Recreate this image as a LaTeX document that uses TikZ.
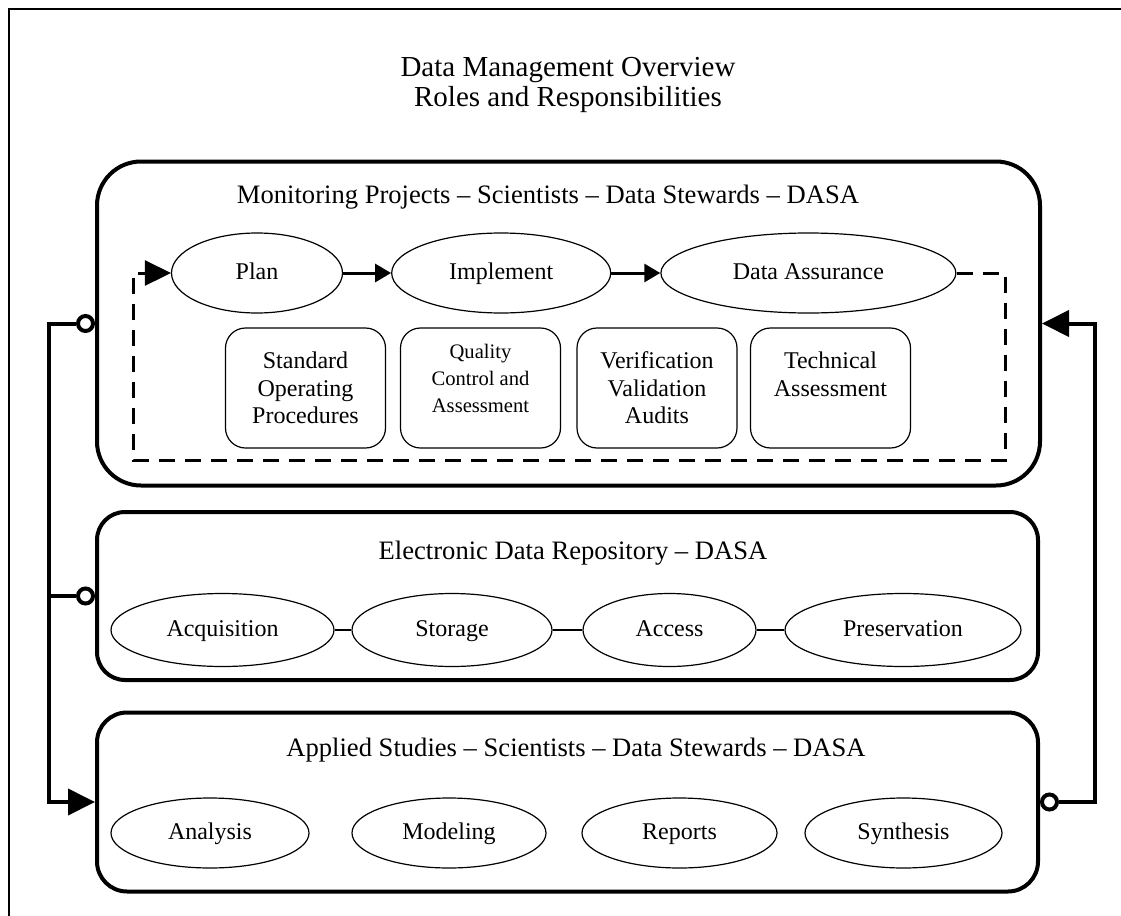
\documentclass[tikz,border=0pt]{standalone}
\usepackage{fontspec}
\setmainfont{Liberation Serif}
\usetikzlibrary{shapes.geometric,arrows.meta,positioning}

\begin{document}
\begin{tikzpicture}[x=0.5pt,y=-0.5pt,font=\fontsize{12}{13.7}\selectfont, link/.style={line width=2pt}]
    \tikzstyle{panel}=[rectangle,draw,line width=2pt,minimum width=470.5pt]
    \tikzstyle{heading}=[inner sep=0pt,font=\fontsize{13.3}{16}\selectfont]
    \tikzstyle{oval}=[ellipse,draw,line width=0.6pt,inner sep=0pt,text height=8.5pt,text depth=2.5pt]
    \tikzstyle{phase}=[oval,minimum height=40pt]
    \tikzstyle{store}=[oval,minimum height=36.5pt]
    \tikzstyle{study}=[oval,minimum height=35pt]
    \tikzstyle{task}=[rectangle,rounded corners=10pt,draw,line width=0.6pt,minimum width=80pt,minimum height=60pt,align=center]
    \tikzstyle{opencirc}=[circle,draw,line width=2pt,fill=white,minimum size=7.5pt,inner sep=0pt]
    \tikzstyle{flow}=[line width=1.5pt,-{Triangle[length=8pt,width=9pt]}]
    \tikzstyle{cycleline}=[line width=1.5pt,dash pattern=on 8pt off 5pt,-{Triangle[length=13pt,width=12.5pt]}]
    \tikzstyle{bigtip}=[-{Triangle[length=13.5pt,width=13pt]}]

    \useasboundingbox (0,0) rectangle (1121,916);
    \draw[line width=1pt] (9,916) -- (9,9) -- (1121,9);

    \node(title)[align=center,font=\fontsize{14.5}{15}\selectfont] at (568,85){Data Management Overview\\Roles and Responsibilities};

    % three panels
    \node(monitor)[panel,rounded corners=22pt,minimum width=471.5pt,minimum height=162pt] at (568.5,323.5){};
    \node(repo)[panel,rounded corners=14pt,minimum height=84pt] at (567.5,596){};
    \node(applied)[panel,rounded corners=15pt,minimum height=89.5pt] at (567.5,802){};

    \node(monhead)[heading] at (548,197){Monitoring Projects – Scientists – Data Stewards – DASA};
    \node(repohead)[heading] at (573,553){Electronic Data Repository – DASA};
    \node(apphead)[heading] at (576,750){Applied Studies – Scientists – Data Stewards – DASA};

    \node(plan)[phase,minimum width=85.5pt] at (257,273){Plan};
    \node(impl)[phase,minimum width=109.5pt,right=24pt of plan]{Implement};
    \node(assure)[phase,minimum width=147.5pt,right=24.5pt of impl]{Data Assurance};
    \draw[flow] (plan) -- (impl);
    \draw[flow] (impl) -- (assure);

    \node(sop)[task] at (305.5,388){Standard\\Operating\\Procedures};
    \node(qc)[task,font=\fontsize{10.3}{13.5}\selectfont] at (480.5,388){Quality\\Control and\\Assessment\\[-4pt]\mbox{}};
    \node(vva)[task] at (657,388){Verification\\Validation\\Audits};
    \node(ta)[task] at (830.5,388){Technical\\Assessment\\\mbox{}};

    \coordinate(loopse) at (1005,460);
    \coordinate(loopsw) at (133,460);
    \draw[cycleline] (assure.east) -| (loopse) -- (loopsw) |- (plan.west);

    \node(acq)[store,minimum width=111.5pt] at (222.5,630){Acquisition};
    \node(stor)[store,minimum width=100pt] at (452,630){Storage};
    \node(access)[store,minimum width=86.5pt] at (669.5,630){Access};
    \node(pres)[store,minimum width=118pt] at (903,630){Preservation};
    \draw[line width=1.2pt] (acq) -- (stor);
    \draw[line width=1.2pt] (stor) -- (access);
    \draw[line width=1.2pt] (access) -- (pres);

    \node(analysis)[study,minimum width=99pt] at (210,833){Analysis};
    \node(model)[study,minimum width=97pt] at (449,833){Modeling};
    \node(reports)[study,minimum width=97.5pt] at (679.5,833){Reports};
    \node(synth)[study,minimum width=98.5pt] at (903.5,833){Synthesis};

    \node(cmon)[opencirc,left=0pt of monitor]{};
    \node(crep)[opencirc,left=0pt of repo]{};
    \node(capp)[opencirc,right=0pt of applied]{};
    \coordinate(ltrunk) at (49,0);
    \coordinate(rtrunk) at (1095,0);
    \draw[link,bigtip] (cmon.west) -- (cmon.west -| ltrunk) -- (applied.west -| ltrunk) -- (applied.west);
    \draw[link] (crep.west) -- (crep.west -| ltrunk);
    \draw[link,bigtip] (capp.east) -- (capp.east -| rtrunk) -- (monitor.east -| rtrunk) -- (monitor.east);
\end{tikzpicture}
\end{document}
